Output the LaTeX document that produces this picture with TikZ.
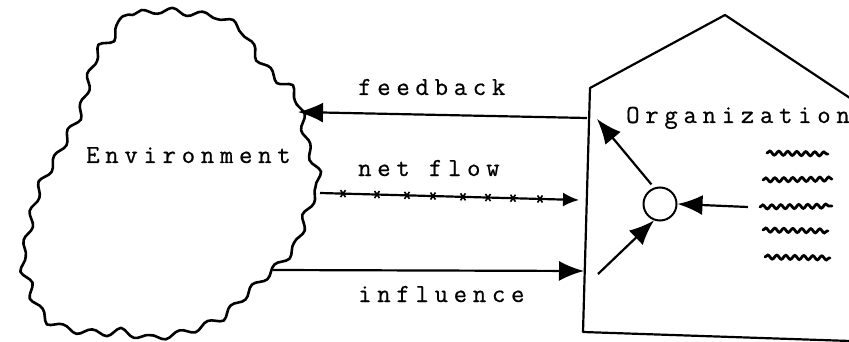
\documentclass[tikz,border=0pt]{standalone}
\usepackage{fontspec}
\usetikzlibrary{arrows.meta,decorations.pathmorphing}
\newfontfamily\tw[LetterSpace=22,FakeBold=0.6]{Latin Modern Mono}
\tikzset{
  lbl/.style={font=\tw\fontsize{26}{26}\selectfont, anchor=base west, inner sep=0pt},
  conn/.style={line width=2.2pt, -{Latex[length=25pt,width=20pt]}},
  smallconn/.style={line width=2.2pt, -{Latex[length=16pt,width=14pt]}},
  outline/.style={line width=2.2pt, line join=round},
  blob/.style={line width=2.6pt, line join=round, decorate,
    decoration={snake, segment length=30pt, amplitude=3.2pt}},
  scrib/.style={line width=2.8pt, line cap=round, decorate,
    decoration={snake, segment length=9pt, amplitude=2pt}},
  tick/.style={line width=1.6pt}
}
\begin{document}
\begin{tikzpicture}[x=1pt,y=-1pt]
\useasboundingbox (0,0) rectangle (849,342);
\clip (0,0) rectangle (849,342);
% environment blob
\draw[blob] plot[smooth cycle, tension=0.55] coordinates {
 (117,20) (133,15) (157,12) (200,17) (213,18) (233,30) (242,45) (250,58)
 (267,77) (283,88) (292,105) (300,145) (311,175) (310,192) (301,207)
 (297,222) (292,240) (281,255) (270,266) (252,282) (233,300) (215,317)
 (183,330) (160,335) (140,337) (117,331) (93,333) (67,330) (43,322)
 (27,300) (21,280) (14,260) (20,233) (27,200) (34,180) (50,153) (60,133)
 (73,110) (80,83) (87,57) (95,43) (108,33)};
\node[lbl] (env) at (86,163) {Environment};
% organization house
\draw[outline] (880,118) -- (725,15) -- (590,88) -- (583,332) -- (880,342);
\node[lbl] (org) at (626,123) {Organization};
% circle
\node[circle, draw, line width=2pt, minimum size=33pt, inner sep=0pt] (c) at (660,204) {};
% coordinates
\coordinate (fbS) at (587,118);
\coordinate (fbE) at (298,112);
\coordinate (nfS) at (320,193);
\coordinate (nfE) at (579,200);
\coordinate (inS) at (273,270);
\coordinate (inE) at (584,271);
\coordinate (upE) at (597,119);
\coordinate (loS) at (598,274);
\coordinate (riS) at (748,207);
% connectors
\draw[conn] (fbS) -- (fbE);
\node[lbl] (fb) at (358,95) {feedback};
\draw[smallconn] (nfS) -- (nfE);
\node[lbl] (nf) at (358,176) {net flow};
\foreach \x in {343,377,407,433,463,488,513,540}{
  \pgfmathsetmacro{\yy}{193+(\x-320)*7/259}
  \draw[tick] (\x-2.5,\yy-3.5) -- (\x+2.5,\yy+3.5);
  \draw[tick] (\x+2.5,\yy-3.5) -- (\x-2.5,\yy+3.5);
}
\draw[conn] (inS) -- (inE);
\node[lbl] (inf) at (358,302) {influence};
\draw[conn, shorten <=4pt] (c.110) -- (upE);
\draw[conn] (loS) -- (c.250);
\draw[conn] (riS) -- (c.east);
% scribbles
\draw[scrib] (767,153) -- (828,154);
\draw[scrib] (763,180) -- (832,179);
\draw[scrib] (760,207) -- (832,206);
\draw[scrib] (763,230) -- (828,231);
\draw[scrib] (765,257) -- (830,258);
\end{tikzpicture}
\end{document}
